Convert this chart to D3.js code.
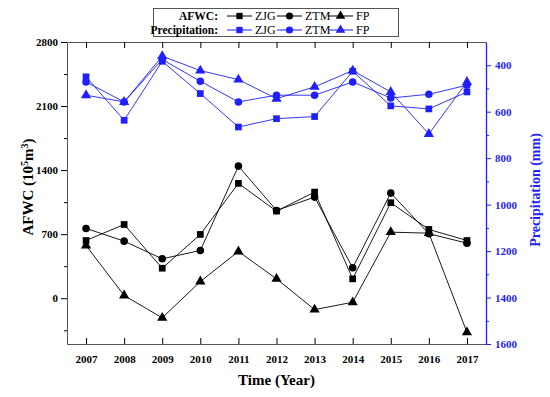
<!DOCTYPE html>
<meta charset="utf-8">
<style>
    body { margin: 0; background: #fff; }
    text { font-family: "Liberation Serif", "Times New Roman", serif; }
</style>
<body>
<script src="https://cdn.jsdelivr.net/npm/d3@7"></script>
<script>
    var years = [2007, 2008, 2009, 2010, 2011, 2012, 2013, 2014, 2015, 2016, 2017];

    // AFWC (10^5 m^3)
    var afwcZJG = [631, 806, 328, 697, 1255, 952, 1160, 212, 1044, 752, 631];
    var afwcZTM = [763, 624, 431, 522, 1444, 959, 1105, 333, 1149, 705, 602];
    var afwcFP = [577, 30, -214, 183, 511, 212, -124, -44, 722, 711, -372];

    // Precipitation (mm)
    var precZJG = [450, 637, 383, 522, 666, 630, 621, 426, 575, 588, 515];
    var precZTM = [472, 558, 375, 469, 558, 529, 529, 472, 541, 525, 486];
    var precFP = [529, 558, 361, 423, 462, 544, 493, 423, 515, 696, 472];

    var leftTicks = [0, 700, 1400, 2100, 2800];
    var leftMinor = [-350, 350, 1050, 1750, 2450];
    var rightTicks = [400, 600, 800, 1000, 1200, 1400, 1600];
    var rightMinor = [500, 700, 900, 1100, 1300, 1500];

    var width = 550, height = 397;
    var plotL = 67, plotR = 486, plotT = 42, plotB = 344;
    var blue = "#1f1fff";
    var serif = "Liberation Serif, Times New Roman, serif";

    var svg = d3.select("body").append("svg")
        .attr("width", width)
        .attr("height", height);

    var x = d3.scaleLinear().domain([2006.5, 2017.5]).range([plotL, plotR]);
    var yL = d3.scaleLinear().domain([-500, 2800]).range([plotB, plotT]);
    var yR = d3.scaleLinear().domain([300, 1600]).range([plotT, plotB]);

    // bottom axis, ticks inside
    var gx = svg.append("g").attr("transform", "translate(0," + plotB + ")")
        .call(d3.axisBottom(x).tickValues(years).tickFormat(d3.format("d")).tickSizeInner(-6).tickSizeOuter(0).tickPadding(11));
    gx.selectAll("text").attr("font-size", 11).attr("font-weight", "bold");

    // top frame, ticks inside
    svg.append("g").attr("transform", "translate(0," + plotT + ")")
        .call(d3.axisTop(x).tickValues(years).tickFormat("").tickSizeInner(-6).tickSizeOuter(0));

    // left axis
    var gl = svg.append("g").attr("transform", "translate(" + plotL + ",0)")
        .call(d3.axisLeft(yL).tickValues(leftTicks).tickFormat(d3.format("d")).tickSizeInner(6).tickSizeOuter(0).tickPadding(3));
    gl.selectAll("text").attr("font-size", 11).attr("font-weight", "bold");
    svg.append("g").attr("transform", "translate(" + plotL + ",0)")
        .call(d3.axisLeft(yL).tickValues(leftMinor).tickFormat("").tickSizeInner(3).tickSizeOuter(0))
        .select(".domain").remove();

    svg.selectAll(".domain").attr("stroke", "#555");

    // right axis
    var gr = svg.append("g").attr("transform", "translate(" + plotR + ",0)")
        .call(d3.axisRight(yR).tickValues(rightTicks).tickFormat(d3.format("d")).tickSizeInner(5).tickSizeOuter(0).tickPadding(4));
    gr.selectAll("text").attr("font-size", 11).attr("font-weight", "bold").attr("fill", blue);
    gr.selectAll("line").attr("stroke", blue);
    gr.select(".domain").attr("stroke", blue).attr("stroke-width", 1.3);
    svg.append("g").attr("transform", "translate(" + plotR + ",0)")
        .call(d3.axisRight(yR).tickValues(rightMinor).tickFormat("").tickSizeInner(3).tickSizeOuter(0))
        .call(function (g) { g.select(".domain").remove(); g.selectAll("line").attr("stroke", blue); });

    svg.selectAll("g").attr("font-family", serif);

    // axis titles
    svg.append("text")
        .attr("transform", "translate(33," + ((plotT + plotB) / 2 - 6) + ") rotate(-90)")
        .attr("text-anchor", "middle")
        .attr("font-size", 15).attr("font-weight", "bold")
        .html('AFWC (10<tspan baseline-shift="super" font-size="10">5</tspan>m<tspan baseline-shift="super" font-size="10">3</tspan>)');

    svg.append("text")
        .attr("transform", "translate(540," + ((plotT + plotB) / 2 - 3) + ") rotate(-90)")
        .attr("text-anchor", "middle")
        .attr("font-size", 14).attr("font-weight", "bold").attr("fill", blue)
        .text("Precipitation (mm)");

    svg.append("text")
        .attr("x", (plotL + plotR) / 2).attr("y", 385)
        .attr("text-anchor", "middle")
        .attr("font-size", 15).attr("font-weight", "bold")
        .text("Time (Year)");

    var symbols = { square: d3.symbolSquare, circle: d3.symbolCircle, triangle: d3.symbolTriangle };

    var series = [
        { vals: precZJG, y: yR, color: blue, shape: "square" },
        { vals: precZTM, y: yR, color: blue, shape: "circle" },
        { vals: precFP, y: yR, color: blue, shape: "triangle" },
        { vals: afwcZJG, y: yL, color: "#000", shape: "square" },
        { vals: afwcZTM, y: yL, color: "#000", shape: "circle" },
        { vals: afwcFP, y: yL, color: "#000", shape: "triangle" }
    ];

    series.forEach(function (s) {
        var line = d3.line()
            .x(function (d, i) { return x(years[i]); })
            .y(function (d) { return s.y(d); });
        svg.append("path")
            .attr("d", line(s.vals))
            .attr("fill", "none")
            .attr("stroke", s.color)
            .attr("stroke-width", 0.9);
        svg.append("g").selectAll("path")
            .data(s.vals)
            .enter().append("path")
            .attr("transform", function (d, i) { return "translate(" + x(years[i]) + "," + s.y(d) + ")"; })
            .attr("d", d3.symbol().type(symbols[s.shape]).size(45))
            .attr("fill", s.color);
    });

    // legend
    var lg = svg.append("g");
    lg.append("rect")
        .attr("x", 153.5).attr("y", 8.5).attr("width", 245).attr("height", 28)
        .attr("fill", "#fff").attr("stroke", "#555");

    var rows = [
        { label: "AFWC:", color: "#000", y: 16 },
        { label: "Precipitation:", color: blue, y: 30 }
    ];
    var items = [
        { name: "ZJG", shape: "square", x0: 227 },
        { name: "ZTM", shape: "circle", x0: 277 },
        { name: "FP", shape: "triangle", x0: 328 }
    ];
    rows.forEach(function (r) {
        lg.append("text")
            .attr("x", 218).attr("y", r.y + 4)
            .attr("text-anchor", "end")
            .attr("font-size", 11.5).attr("font-weight", "bold")
            .text(r.label);
        items.forEach(function (it) {
            lg.append("line")
                .attr("x1", it.x0).attr("x2", it.x0 + 25)
                .attr("y1", r.y).attr("y2", r.y)
                .attr("stroke", r.color).attr("stroke-width", 1);
            lg.append("path")
                .attr("transform", "translate(" + (it.x0 + 12.5) + "," + r.y + ")")
                .attr("d", d3.symbol().type(symbols[it.shape]).size(40))
                .attr("fill", r.color);
            lg.append("text")
                .attr("x", it.x0 + 28).attr("y", r.y + 4)
                .attr("font-size", 12)
                .text(it.name);
        });
    });
</script>
</body>
